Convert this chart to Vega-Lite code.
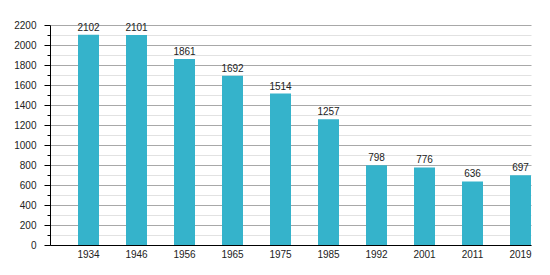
{
  "$schema": "https://vega.github.io/schema/vega-lite/v6.json",
  "width": 481,
  "height": 220,
  "autosize": {"type": "none"},
  "padding": {"left": 50, "top": 25, "right": 19, "bottom": 30},
  "background": "white",
  "config": {
    "view": {"stroke": null},
    "font": "Liberation Sans"
  },
  "data": {
    "values": [
      {"year": "1934", "pop": 2102},
      {"year": "1946", "pop": 2101},
      {"year": "1956", "pop": 1861},
      {"year": "1965", "pop": 1692},
      {"year": "1975", "pop": 1514},
      {"year": "1985", "pop": 1257},
      {"year": "1992", "pop": 798},
      {"year": "2001", "pop": 776},
      {"year": "2011", "pop": 636},
      {"year": "2019", "pop": 697}
    ]
  },
  "encoding": {
    "x": {
      "field": "year",
      "type": "ordinal",
      "sort": null,
      "scale": {"paddingInner": 0.5625, "paddingOuter": 0.2917, "align": 1},
      "axis": {
        "title": null,
        "labelAngle": 0,
        "ticks": false,
        "domainColor": "#000",
        "domainWidth": 1,
        "labelFontSize": 10,
        "labelColor": "#222",
        "labelPadding": 4,
        "grid": false
      }
    },
    "y": {
      "field": "pop",
      "type": "quantitative",
      "scale": {"domain": [0, 2200], "nice": false},
      "axis": {
        "title": null,
        "values": [0, 100, 200, 300, 400, 500, 600, 700, 800, 900, 1000, 1100, 1200, 1300, 1400, 1500, 1600, 1700, 1800, 1900, 2000, 2100, 2200],
        "labelExpr": "datum.value % 200 === 0 ? datum.label : ''",
        "format": "d",
        "grid": true,
        "gridColor": {"condition": {"test": "datum.value % 200 === 0", "value": "#a8a8a8"}, "value": "#e2e2e2"},
        "gridWidth": 1,
        "tickColor": "#000",
        "tickSize": {"condition": {"test": "datum.value % 200 === 0", "value": 6}, "value": 3},
        "domainColor": "#000",
        "labelFontSize": 10,
        "labelColor": "#222",
        "labelPadding": 8,
        "labelBaseline": "middle"
      }
    }
  },
  "layer": [
    {
      "mark": {"type": "bar", "color": "#35b3cb"}
    },
    {
      "mark": {"type": "text", "baseline": "alphabetic", "dy": -4, "fontSize": 10, "color": "#222"},
      "encoding": {"text": {"field": "pop", "type": "quantitative", "format": "d"}}
    }
  ]
}
